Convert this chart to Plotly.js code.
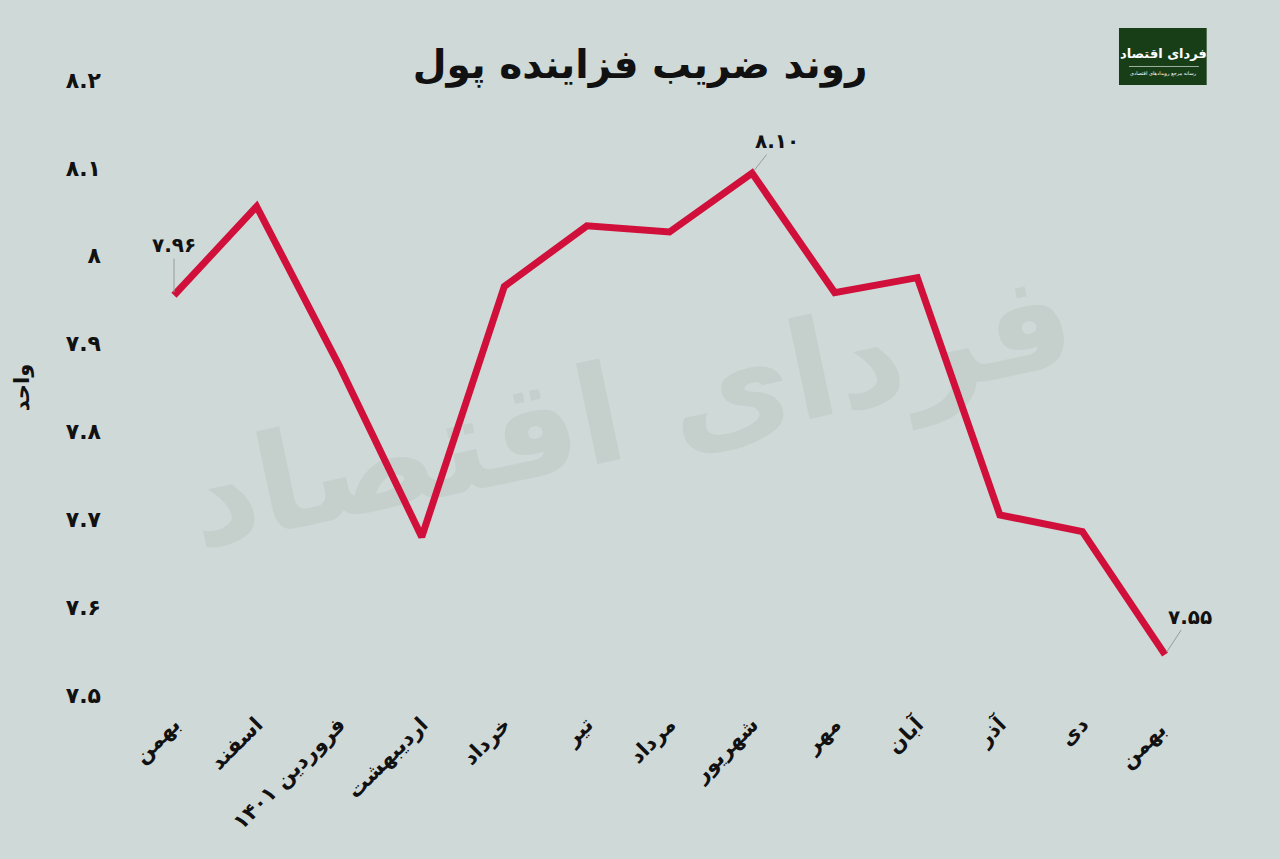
<!DOCTYPE html>
<html>
<head>
<meta charset="utf-8">
<script src="https://cdn.plot.ly/plotly-3.0.1.min.js"></script>
<style>
html,body{margin:0;padding:0;background:#cfd9d8;}
#wrap{position:relative;width:1280px;height:859px;overflow:hidden;}
#wm{position:absolute;left:0;top:0;width:1280px;height:859px;display:flex;align-items:center;justify-content:center;pointer-events:none;}
#wm span{font-family:'DejaVu Sans',sans-serif;font-weight:bold;font-size:135px;color:#c5d0cd;transform:translate(-10px,-20px) rotate(-12deg);white-space:nowrap;}
#chart{position:absolute;left:0;top:0;width:1280px;height:859px;}
</style>
</head>
<body>
<div id="wrap">
<div id="wm"><span dir="rtl">فردای اقتصاد</span></div>
<div id="chart"></div>
</div>
<script>
const months = ['بهمن','اسفند','فروردین ۱۴۰۱','اردیبهشت','خرداد','تیر','مرداد','شهریور','مهر','آبان','آذر','دی','بهمن '];
const multiplier = [7.955, 8.056, 7.875, 7.68, 7.965, 8.034, 8.027, 8.094, 7.958, 7.975, 7.705, 7.686, 7.546];
const yTickVals = [7.5, 7.6, 7.7, 7.8, 7.9, 8.0, 8.1, 8.2];
const yTickText = ['۷.۵','۷.۶','۷.۷','۷.۸','۷.۹','۸','۸.۱','۸.۲'];
const labelIdx = [0, 7, 12];
const labelText = ['۷.۹۶','۸.۱۰','۷.۵۵'];

const FONT = 'DejaVu Sans, Noto Sans, sans-serif';
const xIdx = months.map((_, i) => i);

const trace = {
  x: xIdx, y: multiplier, type: 'scatter', mode: 'lines',
  line: {color: '#d0103a', width: 7, shape: 'linear'},
  hoverinfo: 'skip'
};

const offsets = [[0, -50], [25, -32], [25, -38]];
const annotations = labelIdx.map((i, k) => ({
  x: i, y: multiplier[i], xref: 'x', yref: 'y',
  text: '<b>' + labelText[k] + '</b>',
  showarrow: true, arrowhead: 0, arrowwidth: 1, arrowcolor: '#9a9a9a',
  ax: offsets[k][0], ay: offsets[k][1], standoff: 3,
  font: {family: FONT, size: 20, color: '#111'}
}));

annotations.push({
  xref: 'paper', yref: 'paper', x: 0.9495, y: 1.043, xanchor: 'center', yanchor: 'middle',
  text: '<b>فردای اقتصاد</b>', showarrow: false,
  font: {family: FONT, size: 13, color: '#ffffff'}
});
annotations.push({
  xref: 'paper', yref: 'paper', x: 0.9495, y: 1.010, xanchor: 'center', yanchor: 'middle',
  text: 'رسانه مرجع رویدادهای اقتصادی', showarrow: false,
  font: {family: FONT, size: 5, color: '#ffffff'}
});

const layout = {
  width: 1280, height: 859,
  paper_bgcolor: 'rgba(0,0,0,0)', plot_bgcolor: 'rgba(0,0,0,0)',
  margin: {l: 110, r: 60, t: 80, b: 164},
  showlegend: false,
  title: {text: '<b>روند ضریب فزاینده پول</b>', x: 0.5, xanchor: 'center', y: 0.925, yanchor: 'middle',
          font: {family: FONT, size: 39, color: '#111'}},
  xaxis: {
    range: [-0.775, 12.666], tickmode: 'array', tickvals: xIdx, ticktext: months,
    tickangle: -45, showgrid: false, zeroline: false, showline: false, ticks: '',
    tickfont: {family: FONT, size: 21, color: '#111', weight: 'bold'}, ticklabelstandoff: 12
  },
  yaxis: {
    range: [7.5, 8.2], tickmode: 'array', tickvals: yTickVals, ticktext: yTickText,
    showgrid: false, zeroline: false, showline: false, ticks: '',
    tickfont: {family: FONT, size: 22, color: '#111', weight: 'bold'}, ticklabelstandoff: 8,
    title: {text: '<b>واحد</b>', font: {family: FONT, size: 21, color: '#111'}, standoff: 30}
  },
  shapes: [
    {type: 'rect', xref: 'paper', yref: 'paper', x0: 0.909, x1: 0.988, y0: 0.992, y1: 1.0846,
     fillcolor: '#173e17', line: {width: 0}},
    {type: 'line', xref: 'paper', yref: 'paper', x0: 0.918, x1: 0.981, y0: 1.022, y1: 1.022,
     line: {color: '#ffffff', width: 0.6}}
  ],
  annotations: annotations
};

Plotly.newPlot('chart', [trace], layout, {staticPlot: true, displayModeBar: false});
</script>
</body>
</html>
